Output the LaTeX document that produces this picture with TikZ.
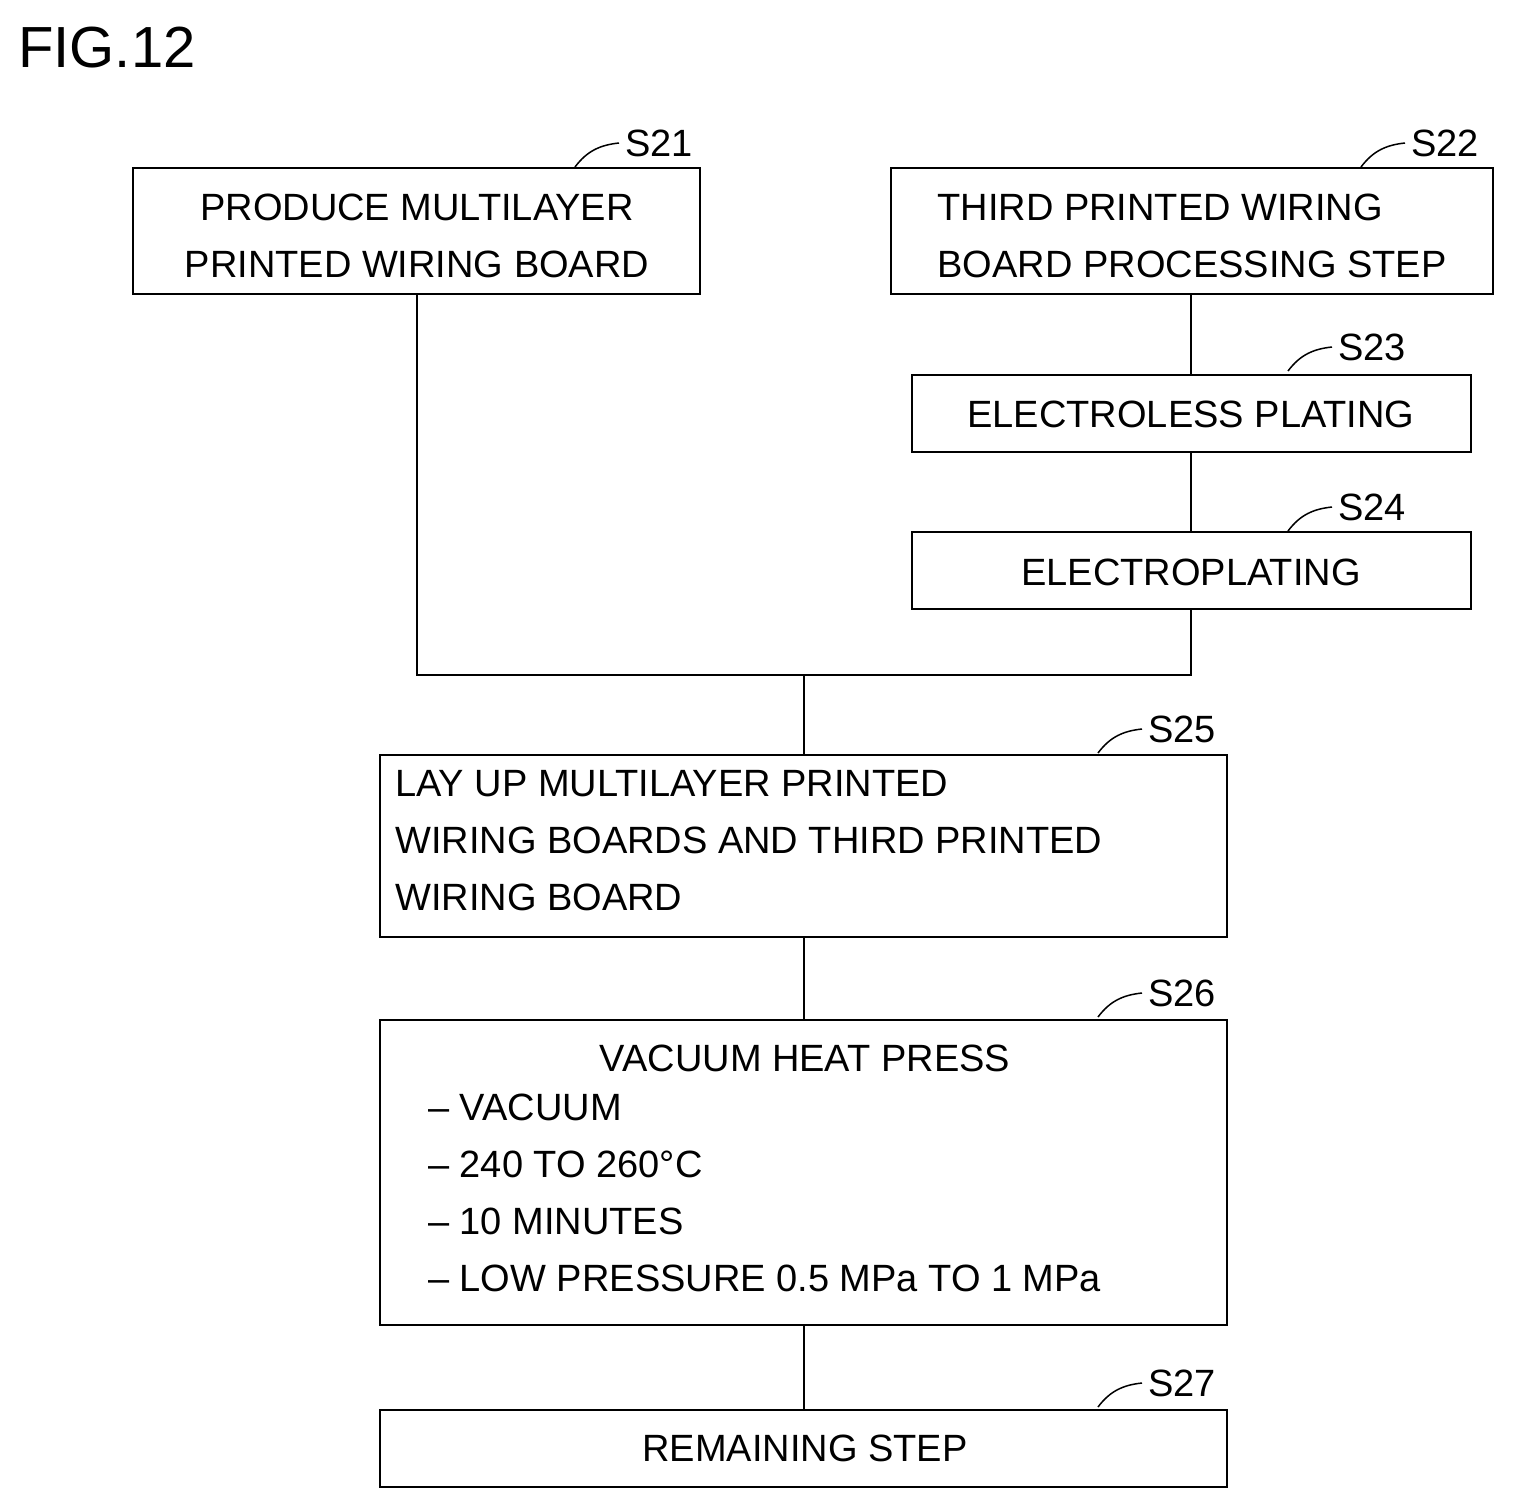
\documentclass[tikz,border=0pt]{standalone}
\usepackage{fontspec}
\setmainfont{Liberation Sans}
\begin{document}
\begin{tikzpicture}[x=1pt,y=-1pt,
  box/.style={draw,line width=2.5pt},
  ln/.style={line width=2.5pt},
  txt/.style={font=\fontsize{38}{57}\selectfont,inner sep=0pt},
  lab/.style={font=\fontsize{38}{57}\selectfont,inner sep=0pt,anchor=west}]
\useasboundingbox (0,0) rectangle (1515,1509);
\node[font=\fontsize{58}{60}\selectfont,anchor=west,inner sep=0pt] (fig) at (18,48) {FIG.12};
% boxes
\draw[box] (133,168) rectangle (700,294);
\draw[box] (891,168) rectangle (1493,294);
\draw[box] (912,375) rectangle (1471,452);
\draw[box] (912,532) rectangle (1471,609);
\draw[box] (380,755) rectangle (1227,937);
\draw[box] (380,1020) rectangle (1227,1325);
\draw[box] (380,1410) rectangle (1227,1487);
% texts
\node[txt,align=center] (t21) at (417,236) {PRODUCE MULTILAYER\\PRINTED WIRING BOARD};
\node[txt,align=left] (t22) at (1192,236) {THIRD PRINTED WIRING\\BOARD PROCESSING STEP};
\node[txt] (t23) at (1191,414) {ELECTROLESS PLATING};
\node[txt] (t24) at (1191,572) {ELECTROPLATING};
\node[txt,align=left,anchor=north west] (t25) at (395,770) {LAY UP MULTILAYER PRINTED\\WIRING BOARDS AND THIRD PRINTED\\WIRING BOARD};
\node[txt] (t26) at (805,1058) {VACUUM HEAT PRESS};
\node[txt,align=left,anchor=north west] (t26b) at (428,1094) {-- VACUUM\\-- 240 TO 260°C\\-- 10 MINUTES\\-- LOW PRESSURE 0.5 MPa TO 1 MPa};
\node[txt] (t27) at (805,1448) {REMAINING STEP};
% labels
\foreach \n/\x/\y in {S21/625/143, S22/1411/143, S23/1338/347, S24/1338/507, S25/1148/729, S26/1148/993, S27/1148/1383}{
  \node[lab] (\n) at (\x,\y) {\n};
  \draw[line width=1.5pt] (\x-50,\y+24) .. controls (\x-38,\y+8) and (\x-25,\y+2) .. (\x-6,\y);
}
% connectors
\coordinate (j1) at (417,675);
\coordinate (j2) at (1191,675);
\coordinate (j3) at (804,675);
\draw[ln] (417,294) -- (j1) -- (j2) -- (1191,609);
\draw[ln] (1191,294) -- (1191,375);
\draw[ln] (1191,452) -- (1191,532);
\draw[ln] (j3) -- (804,755);
\draw[ln] (804,937) -- (804,1020);
\draw[ln] (804,1325) -- (804,1410);
\end{tikzpicture}
\end{document}
